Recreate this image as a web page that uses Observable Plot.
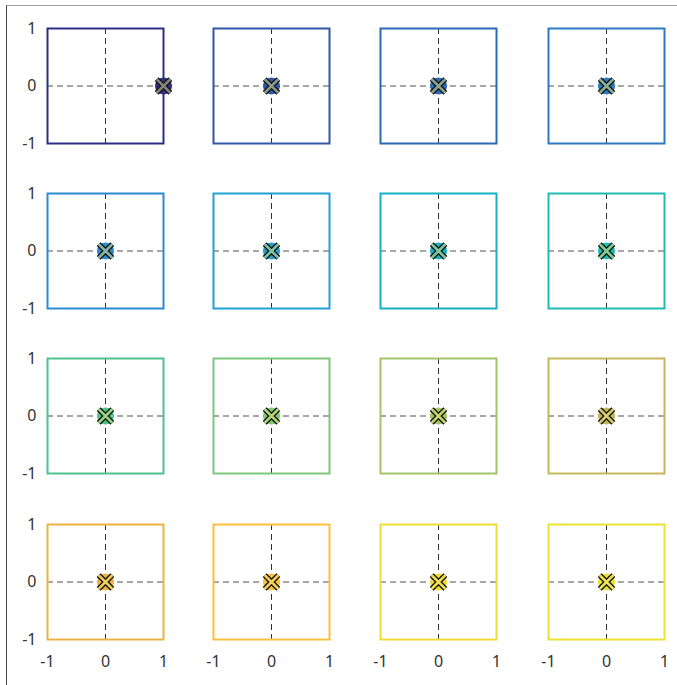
<!DOCTYPE html>
<html>
<head>
<meta charset="utf-8">
<script src="https://cdn.jsdelivr.net/npm/d3@7"></script>
<script src="https://cdn.jsdelivr.net/npm/@observablehq/plot@0.6"></script>
<style>
  html, body { margin: 0; padding: 0; background: #fff; }
  #fig { position: relative; width: 677px; height: 685px; overflow: hidden; }
  #edge { position: absolute; left: 6px; top: 5px; right: 0; bottom: 0;
          border-left: 1px solid #4a4a4a; border-top: 1px solid #a0a0a0; }
  .cell { position: absolute; }
  .cell svg text { font-size: 16px !important; font-family: "Noto Sans", sans-serif !important; fill: #333 !important; }
</style>
</head>
<body>
<div id="fig"><div id="edge"></div></div>
<script>
// Grid of 4 x 4 small panels, one colour per panel
const panelColors = [
  "#2c2e86", "#2f57a8", "#2a69b4", "#2a7bc2",
  "#2a8ad0", "#20a0d3", "#14b0c6", "#1fbbae",
  "#4ec290", "#7dc67c", "#a2c46a", "#c4b85c",
  "#eeb244", "#fbc03c", "#f0dc36", "#eae234"
];
// Marker position in each panel
const markerX = [1, 0, 0, 0, 0, 0, 0, 0, 0, 0, 0, 0, 0, 0, 0, 0];
const markerY = [0, 0, 0, 0, 0, 0, 0, 0, 0, 0, 0, 0, 0, 0, 0, 0];
// Axis ticks shared by all panels
const axisTicks = [-1, 0, 1];

const nCols = 4, nRows = 4;
const colLeft = [47, 213, 380, 548];
const rowTop = [28, 193, 358, 524];
const panelW = 116, panelH = 115;
const mL = 45, mR = 12, mT = 12, mB = 40;

const fig = document.getElementById("fig");

panelColors.forEach((color, i) => {
  const r = Math.floor(i / nCols), c = i % nCols;
  const crossFill = d3.interpolateRgb(color, "#f8f070")(0.45);
  const pt = [{x: markerX[i], y: markerY[i]}];
  const marks = [
    Plot.ruleY([0], {stroke: "#505050", strokeWidth: 1, strokeDasharray: "6,4"}),
    Plot.ruleX([0], {stroke: "#303030", strokeWidth: 1, strokeDasharray: "6,4"}),
    Plot.frame({stroke: color, strokeWidth: 2}),
    Plot.dot(pt, {x: "x", y: "y", r: 8, fill: color, stroke: color, strokeWidth: 1}),
    Plot.dot(pt, {x: "x", y: "y", r: 6.3, symbol: "times", stroke: "#1a1a1a", strokeWidth: 5.5}),
    Plot.dot(pt, {x: "x", y: "y", r: 6.3, symbol: "times", stroke: crossFill, strokeWidth: 2.6})
  ];
  if (r === nRows - 1) {
    marks.push(Plot.axisX(axisTicks, {tickSize: 0, tickPadding: 16, fontSize: 16,
      tickFormat: d => String(d), label: null}));
  }
  if (c === 0) {
    marks.push(Plot.axisY(axisTicks, {tickSize: 0, tickPadding: 11, fontSize: 16,
      tickFormat: d => String(d), label: null}));
  }
  const chart = Plot.plot({
    width: panelW + mL + mR,
    height: panelH + mT + mB,
    marginLeft: mL, marginRight: mR, marginTop: mT, marginBottom: mB,
    style: {fontFamily: "Noto Sans, sans-serif", fontSize: "16px", color: "#333",
            background: "transparent", overflow: "visible"},
    x: {domain: d3.extent(axisTicks), axis: null},
    y: {domain: d3.extent(axisTicks), axis: null},
    marks
  });
  const cell = document.createElement("div");
  cell.className = "cell";
  cell.style.left = (colLeft[c] - mL) + "px";
  cell.style.top = (rowTop[r] - mT) + "px";
  cell.appendChild(chart);
  fig.appendChild(cell);
});
</script>
</body>
</html>
